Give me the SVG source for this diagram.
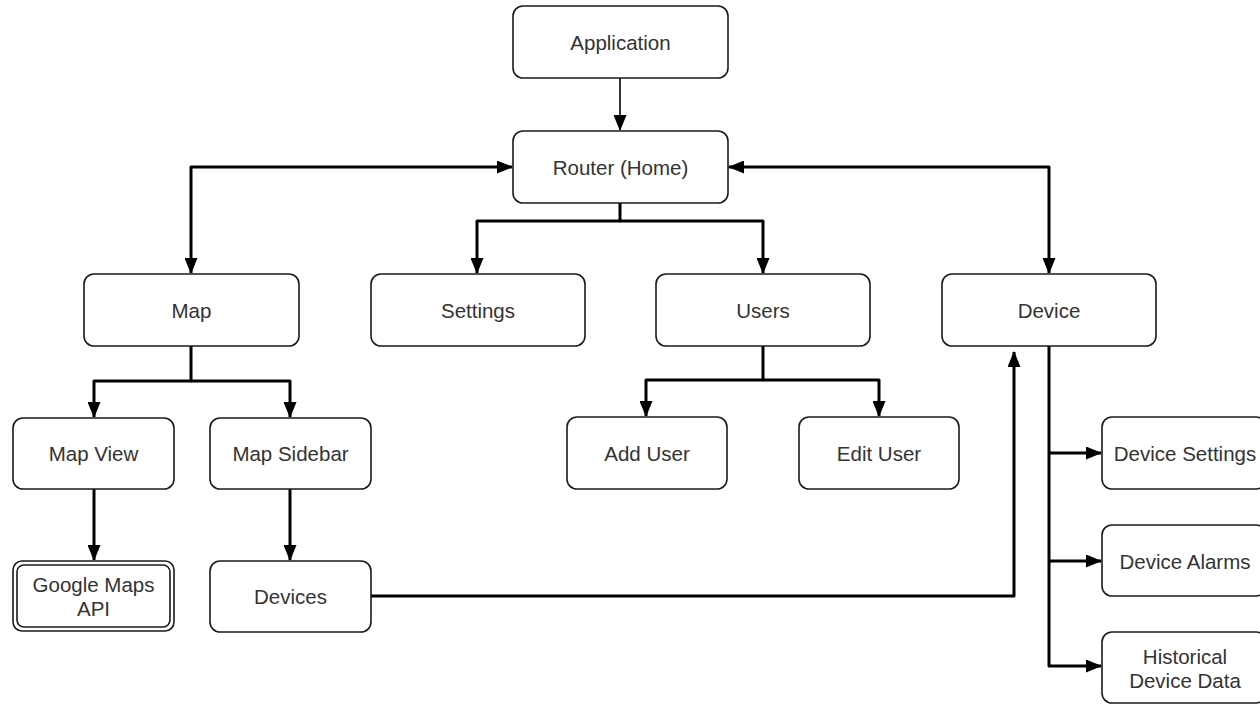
<svg xmlns="http://www.w3.org/2000/svg" width="1260" height="704" viewBox="0 0 1260 704">
<defs>
<style>
.box{fill:#fff;stroke:#1a1a1a;stroke-width:1.6}
.t{font-family:"Liberation Sans",Arial,sans-serif;font-size:20.5px;fill:#333;text-anchor:middle;dominant-baseline:central}
.c{fill:none;stroke:#000;stroke-width:3;stroke-linejoin:round}
.thin{fill:none;stroke:#000;stroke-width:1.6}
</style>
<marker id="ah" viewBox="0 0 16 13" refX="15" refY="6.5" markerWidth="16" markerHeight="13" markerUnits="userSpaceOnUse" orient="auto-start-reverse">
<path d="M0,0 L16,6.5 L0,13 Z" fill="#000"/>
</marker>
</defs>
<rect width="1260" height="704" fill="#fff"/>
<g id="connectors">
<path class="thin" d="M620,78 V130" marker-end="url(#ah)"/>
<path class="c" d="M512,167 H191 V273" marker-start="url(#ah)" marker-end="url(#ah)"/>
<path class="c" d="M729,167 H1049 V273" marker-start="url(#ah)" marker-end="url(#ah)"/>
<path class="c" d="M620,203 V221 H477 V273"  marker-end="url(#ah)"/>
<path class="c" d="M620,221 H763 V273" marker-end="url(#ah)"/>
<path class="c" d="M191,346 V381 H94 V417" marker-end="url(#ah)"/>
<path class="c" d="M191,381 H290 V417" marker-end="url(#ah)"/>
<path class="c" d="M763,346 V380 H646 V416" marker-end="url(#ah)"/>
<path class="c" d="M763,380 H879 V416" marker-end="url(#ah)"/>
<path class="c" d="M94,489 V560" marker-end="url(#ah)"/>
<path class="c" d="M290,489 V560" marker-end="url(#ah)"/>
<path class="c" d="M371,596 H1014 V352" marker-end="url(#ah)"/>
<path class="c" d="M1049,346 V666 H1101" marker-end="url(#ah)"/>
<path class="c" d="M1049,453 H1101" marker-end="url(#ah)"/>
<path class="c" d="M1049,561 H1101" marker-end="url(#ah)"/>
</g>
<g id="application"><rect class="box" x="513" y="6" width="215" height="72" rx="10"/><text class="t" x="620.5" y="42">Application</text></g>
<g id="router"><rect class="box" x="513" y="131" width="215" height="72" rx="10"/><text class="t" x="620.5" y="167">Router (Home)</text></g>
<g id="map"><rect class="box" x="84" y="274" width="215" height="72" rx="10"/><text class="t" x="191.5" y="310">Map</text></g>
<g id="settings"><rect class="box" x="371" y="274" width="214" height="72" rx="10"/><text class="t" x="478" y="310">Settings</text></g>
<g id="users"><rect class="box" x="656" y="274" width="214" height="72" rx="10"/><text class="t" x="763" y="310">Users</text></g>
<g id="device"><rect class="box" x="942" y="274" width="214" height="72" rx="10"/><text class="t" x="1049" y="310">Device</text></g>
<g id="map-view"><rect class="box" x="13" y="418" width="161" height="71" rx="10"/><text class="t" x="93.5" y="453">Map View</text></g>
<g id="map-sidebar"><rect class="box" x="210" y="418" width="161" height="71" rx="10"/><text class="t" x="290.5" y="453">Map Sidebar</text></g>
<g id="google-maps-api"><rect class="box" x="13" y="561" width="161" height="70" rx="9"/><rect class="box" x="17" y="565" width="153" height="62" rx="7"/><text class="t" x="93.5" y="584">Google Maps</text><text class="t" x="93.5" y="608">API</text></g>
<g id="devices"><rect class="box" x="210" y="561" width="161" height="71" rx="10"/><text class="t" x="290.5" y="596">Devices</text></g>
<g id="add-user"><rect class="box" x="567" y="417" width="160" height="72" rx="10"/><text class="t" x="647" y="453">Add User</text></g>
<g id="edit-user"><rect class="box" x="799" y="417" width="160" height="72" rx="10"/><text class="t" x="879" y="453">Edit User</text></g>
<g id="device-settings"><rect class="box" x="1102" y="417" width="164" height="72" rx="10"/><text class="t" x="1185" y="453">Device Settings</text></g>
<g id="device-alarms"><rect class="box" x="1102" y="525" width="164" height="71" rx="10"/><text class="t" x="1185" y="561">Device Alarms</text></g>
<g id="historical-device-data"><rect class="box" x="1102" y="632" width="164" height="71" rx="10"/><text class="t" x="1185" y="656">Historical</text><text class="t" x="1185" y="680">Device Data</text></g>
</svg>
